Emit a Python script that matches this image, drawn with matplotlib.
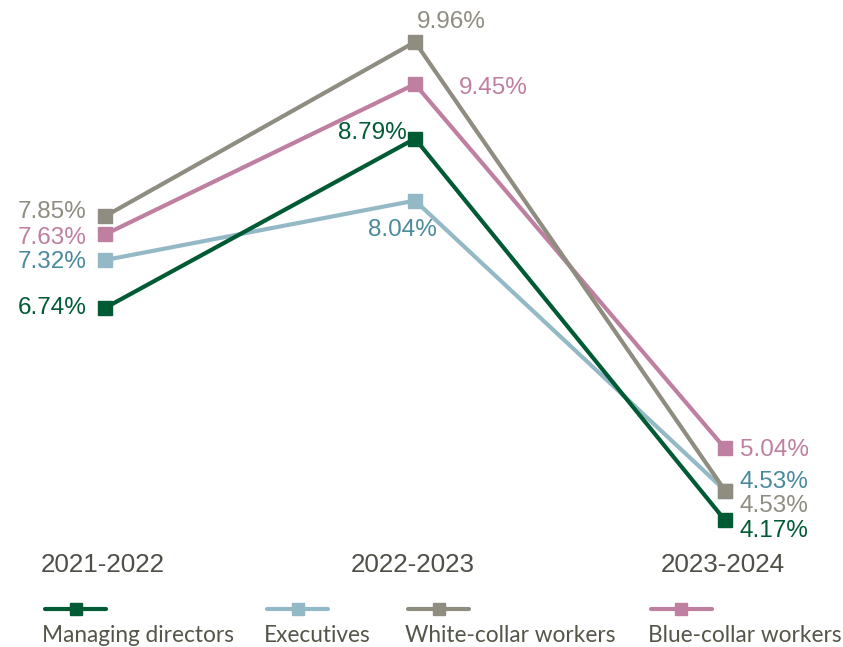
import matplotlib.pyplot as plt
from matplotlib.lines import Line2D

# data
periods = ["2021-2022", "2022-2023", "2023-2024"]
managing_directors = [6.74, 8.79, 4.17]
executives = [7.32, 8.04, 4.53]
white_collar = [7.85, 9.96, 4.53]
blue_collar = [7.63, 9.45, 5.04]

series_names = ["Managing directors", "Executives", "White-collar workers", "Blue-collar workers"]
series_values = [managing_directors, executives, white_collar, blue_collar]
line_colors = ["#005a34", "#93b9c6", "#8f8c80", "#bf7fa0"]
text_colors = ["#005a34", "#4a8a9c", "#8f8c80", "#bf7fa0"]

# label offsets in pixels (dx, dy, ha) per series and period
label_offsets = [
    [(-18, 0, "right"), (-8, 6, "right"), (15, -11, "left")],
    [(-18, -2, "right"), (-13, -29, "center"), (15, 9, "left")],
    [(-18, 4, "right"), (2, 20, "left"), (15, -15, "left")],
    [(-18, -4, "right"), (44, -4, "left"), (15, -2, "left")],
]

W, H = 843, 647
fig = plt.figure(figsize=(W / 100, H / 100), dpi=100)
ax = fig.add_axes([0, 0, 1, 1])
ax.set_xlim(-105 / 310, 2 + (W - 725) / 310)
ax.set_ylim(9.96 - (H - 42) / 82.6, 9.96 + 42 / 82.6)
ax.axis("off")

x = list(range(len(periods)))
num_font = ["Liberation Sans", "DejaVu Sans"]
order = [1, 0, 3, 2]
for z, i in enumerate(order):
    ax.plot(x, series_values[i], color=line_colors[i], linewidth=3, marker="s",
            markersize=9.5, zorder=2 + z, solid_joinstyle="miter")

for i, vals in enumerate(series_values):
    for j, v in enumerate(vals):
        dx, dy, ha = label_offsets[i][j]
        ax.annotate(f"{v:.2f}%", (j, v), xytext=(dx, dy), textcoords="offset pixels",
                    ha=ha, va="center", fontsize=17.5, color=text_colors[i],
                    family=num_font, zorder=10)

for j, p in enumerate(periods):
    ax.text(j - 0.007, 1 - 565 / H, p, transform=ax.get_xaxis_transform(),
            ha="center", va="center", fontsize=18.7, color="#4f4f47", family=num_font)

# legend drawn by hand to match the wide spacing
legend_x = [45, 267, 408, 651]
for i, name in enumerate(series_names):
    x0 = legend_x[i] / W
    x1 = (legend_x[i] + 61) / W
    yl = 1 - 609 / H
    fig.add_artist(Line2D([x0, x1], [yl, yl], color=line_colors[i], linewidth=3,
                          solid_capstyle="round"))
    fig.add_artist(Line2D([(x0 + x1) / 2], [yl], color=line_colors[i], marker="s",
                          markersize=9, linestyle="none"))
    fig.text((legend_x[i] - 3) / W, 1 - 635 / H, name, ha="left", va="center",
             fontsize=16.3, color="#55554a", family=["Lato", "DejaVu Sans"])

fig.savefig("out.png", dpi=100)
